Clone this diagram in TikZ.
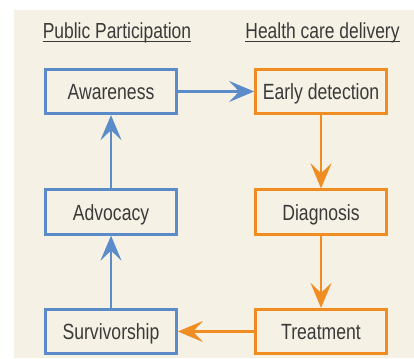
\documentclass[tikz,border=0pt]{standalone}
\usepackage{fontspec}
\setmainfont{Liberation Sans}[FakeStretch=0.8]
\usepackage{xcolor}
\usepackage{tikz}
\usetikzlibrary{arrows.meta}
\definecolor{paper}{HTML}{F5F1E4}
\definecolor{ink}{HTML}{3A3A3A}
\definecolor{pblue}{HTML}{5B8BC8}
\definecolor{porange}{HTML}{EF8C22}

\begin{document}
\begin{tikzpicture}[x=1pt, y=-1pt, every node/.style={color=ink, font=\fontsize{22}{24}\selectfont},
  box/.style={draw, line width=2.8pt, minimum width=131pt, minimum height=44.5pt, inner sep=0pt, text height=16pt, text depth=0pt},
  heading/.style={anchor=base, inner sep=0pt, font=\fontsize{21.8}{23}\selectfont},
  flow/.style={line width=2.4pt, -{Stealth[length=25pt, width=21pt, inset=10pt]}}]
  \useasboundingbox (0,0) rectangle (414,358);
  \fill[paper] (14,10) rectangle (414,358);

  % Column headings
  \node[heading] (pp) at (117,38.3) {Public Participation};
  \node[heading] (hc) at (322.5,38.3) {Health care delivery};
  \foreach \h in {pp,hc}{
    \draw[ink, line width=0.8pt] ([yshift=-3pt]\h.base west) -- ([yshift=-3pt]\h.base east);
  }

  % Boxes
  \foreach \name/\txt/\ypos in {aw/Awareness/91.5, ad/Advocacy/212, sv/Survivorship/331.5}{
    \node[box, draw=pblue] (\name) at (111,\ypos) {\txt};
  }
  \foreach \name/\txt/\ypos in {ed/Early detection/91.5, dg/Diagnosis/212, tr/Treatment/331.5}{
    \node[box, draw=porange] (\name) at (321,\ypos) {\txt};
  }

  % Cycle
  \draw[flow, pblue] (aw) -- (ed);
  \draw[flow, porange] (ed) -- (dg);
  \draw[flow, porange] (dg) -- (tr);
  \draw[flow, porange] (tr) -- (sv);
  \draw[flow, pblue] (sv) -- (ad);
  \draw[flow, pblue] (ad) -- (aw);
\end{tikzpicture}
\end{document}
